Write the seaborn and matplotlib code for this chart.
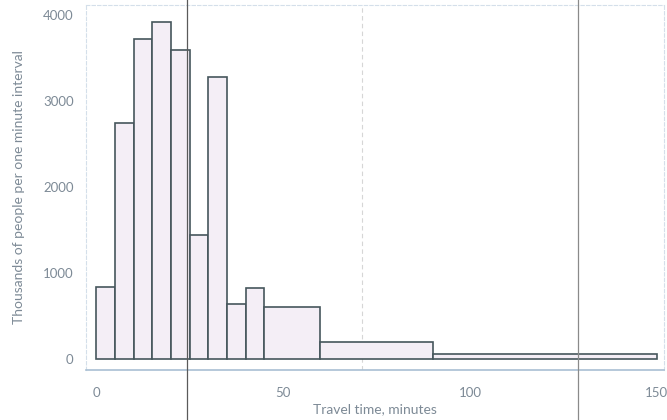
import numpy as np
import pandas as pd
import matplotlib
matplotlib.use("Agg")
import matplotlib.pyplot as plt
import seaborn as sns

# Travel-time bins (minutes) and people per one-minute interval (thousands)
bin_edges = [0, 5, 10, 15, 20, 25, 30, 35, 40, 45, 60, 90, 150]
rate_per_minute = [837, 2744, 3720, 3918, 3593, 1442, 3279, 640, 826, 605, 198, 58]
x_ticks = [0, 50, 100, 150]
y_ticks = [0, 1000, 2000, 3000, 4000]
marker_lines = [24.2, 129.0]

edges = np.array(bin_edges, dtype=float)
widths = np.diff(edges)
mids = edges[:-1] + widths / 2
df = pd.DataFrame({
    "travel_time": mids,
    "people": np.array(rate_per_minute) * widths,  # thousands of people in each bin
})

sns.set_theme(style="white")
plt.rcParams["font.family"] = ["Lato", "DejaVu Sans"]

text_col = "#7d8a96"
axis_col = "#a9bfd3"

fig = plt.figure(figsize=(6.67, 4.2), dpi=100)
ax = fig.add_axes([0.129, 0.119, 0.8665, 0.869])

sns.histplot(data=df, x="travel_time", weights="people", bins=list(bin_edges),
             stat="frequency", color="#f4eef6", alpha=1.0,
             edgecolor="#46565c", linewidth=1.2, ax=ax)

ax.set_xlim(-2.7, 151.9)
ax.set_ylim(-128, 4116)
ax.set_xticks(x_ticks)
ax.set_yticks(y_ticks)
ax.set_xticklabels([str(t) for t in x_ticks], color=text_col, fontsize=9.5)
ax.set_yticklabels([str(t) for t in y_ticks], color=text_col, fontsize=9.5)
ax.tick_params(axis="both", direction="out", length=4, width=0.8,
               color=axis_col, pad=5)
ax.tick_params(axis="x", pad=8)

ax.set_xlabel("Travel time, minutes", color=text_col, fontsize=10, labelpad=3)
ax.set_ylabel("Thousands of people per one minute interval", color=text_col,
              fontsize=10, labelpad=13)

for side in ["left", "top", "right"]:
    ax.spines[side].set_visible(True)
    ax.spines[side].set_color("#d4dfea")
    ax.spines[side].set_linestyle((0, (3, 2)))
    ax.spines[side].set_linewidth(0.8)
ax.spines["bottom"].set_color(axis_col)
ax.spines["bottom"].set_linewidth(1.2)

# light dashed guide line
ax.axvline(71, color="#d6d6d6", lw=0.8, ls=(0, (4, 3)), zorder=0)

# reference markers running the full height of the figure
for xm, col in zip(marker_lines, ["#5a5a5a", "#8a8a8a"]):
    ax.axvline(xm, ymin=-0.14, ymax=1.02, color=col, lw=0.9,
               clip_on=False, zorder=5)

fig.savefig("out.png", dpi=100, facecolor="white")
